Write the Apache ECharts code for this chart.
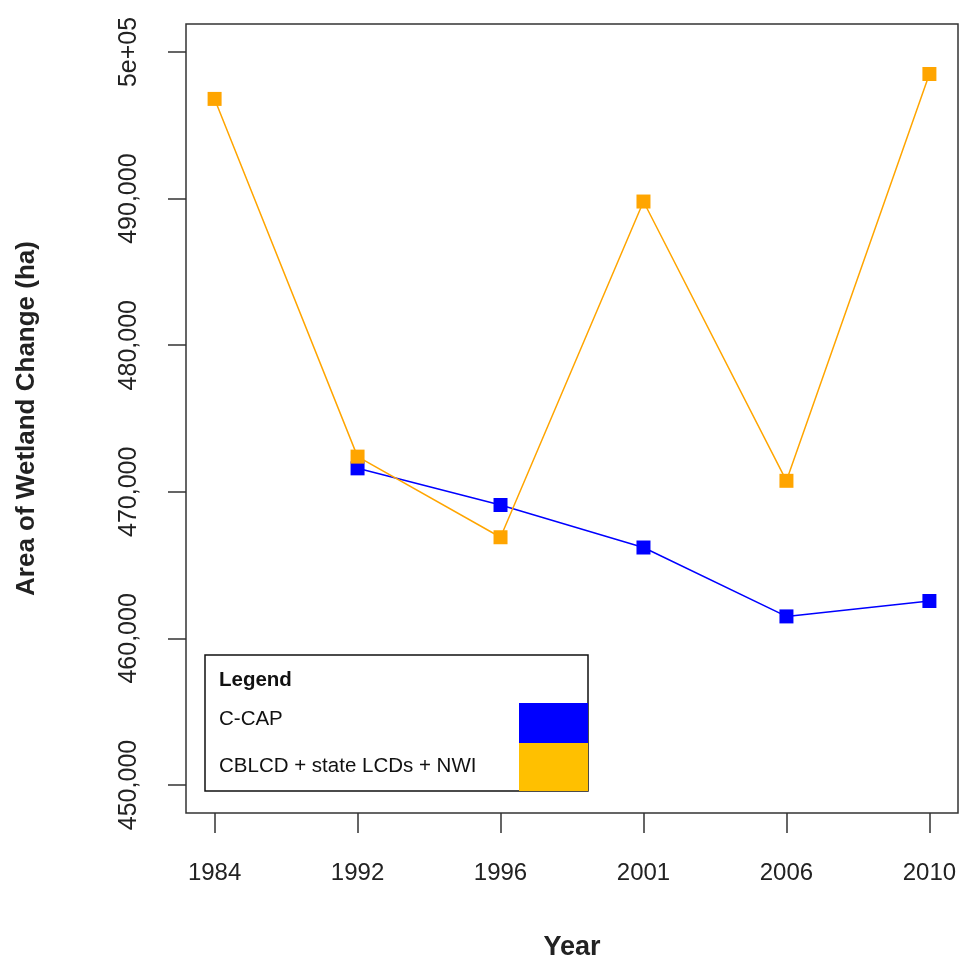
<!DOCTYPE html>
<html>
<head>
<meta charset="utf-8">
<script src="https://cdn.jsdelivr.net/npm/echarts@6/dist/echarts.min.js"></script>
<style>html,body{margin:0;padding:0;background:#fff}#c{width:966px;height:968px}</style>
</head>
<body>
<div id="c"></div>
<script>
var years = ['1984', '1992', '1996', '2001', '2006', '2010'];
var ccap = [null, 471600, 469100, 466200, 461500, 462550];
var cblcd = [496800, 472400, 466900, 489800, 470750, 498500];
var yTicks = [450000, 460000, 470000, 480000, 490000, 500000];
var yTickLabels = ['450,000', '460,000', '470,000', '480,000', '490,000', '5e+05'];
var seriesNames = ['C-CAP', 'CBLCD + state LCDs + NWI'];

function toPairs(arr) {
  var out = [];
  arr.forEach(function (v, i) { if (v !== null) out.push([i + 1, v]); });
  return out;
}
var xPos = years.map(function (_, i) { return i + 1; });

var chart = echarts.init(document.getElementById('c'), null, {renderer: 'canvas'});
var font = '"Liberation Sans", Arial, sans-serif';
chart.setOption({
  animation: false,
  backgroundColor: '#ffffff',
  grid: {left: 186, right: 8, top: 24, bottom: 155, show: true, borderColor: '#333', borderWidth: 1.5, backgroundColor: 'transparent'},
  xAxis: {
    type: 'value', min: 0.8, max: 6.2,
    name: 'Year', nameLocation: 'middle', nameGap: 121,
    nameTextStyle: {fontFamily: font, fontWeight: 'bold', fontSize: 27, color: '#222'},
    axisLine: {show: false},
    splitLine: {show: false},
    axisTick: {show: true, length: 20, lineStyle: {color: '#333', width: 1.5}, customValues: xPos},
    axisLabel: {customValues: xPos, margin: 48, fontFamily: font, fontSize: 24, color: '#222',
      formatter: function (v) { return years[Math.round(v) - 1]; }}
  },
  yAxis: {
    type: 'value', min: 448090, max: 501910,
    name: 'Area of Wetland Change (ha)', nameLocation: 'middle', nameGap: 146, nameRotate: 90,
    nameTextStyle: {fontFamily: font, fontWeight: 'bold', fontSize: 26, color: '#222'},
    axisLine: {show: false},
    splitLine: {show: false},
    axisTick: {show: true, length: 18, lineStyle: {color: '#333', width: 1.5}, customValues: yTicks},
    axisLabel: {customValues: yTicks, rotate: 90, margin: 44, fontFamily: font, fontSize: 25, color: '#222',
      formatter: function (v) { return yTickLabels[yTicks.indexOf(v)]; }}
  },
  series: [
    {name: seriesNames[0], type: 'line', data: toPairs(ccap), symbol: 'rect', symbolSize: 14,
      itemStyle: {color: '#0000ff'}, lineStyle: {color: '#0000ff', width: 1.5}},
    {name: seriesNames[1], type: 'line', data: toPairs(cblcd), symbol: 'rect', symbolSize: 14,
      itemStyle: {color: '#ffa500'}, lineStyle: {color: '#ffa500', width: 1.5}}
  ],
  graphic: [
    {type: 'rect', shape: {x: 205, y: 655, width: 383, height: 136}, style: {fill: '#fff', stroke: '#111', lineWidth: 1.5}, z: 10},
    {type: 'rect', shape: {x: 519, y: 703, width: 69, height: 40}, style: {fill: '#0000ff'}, z: 11},
    {type: 'rect', shape: {x: 519, y: 743, width: 69, height: 48}, style: {fill: '#ffc000'}, z: 11},
    {type: 'text', x: 219, y: 680, style: {text: 'Legend', font: 'bold 20.5px ' + font, fill: '#111', verticalAlign: 'middle'}, z: 12},
    {type: 'text', x: 219, y: 719, style: {text: seriesNames[0], font: '20.5px ' + font, fill: '#111', verticalAlign: 'middle'}, z: 12},
    {type: 'text', x: 219, y: 766, style: {text: seriesNames[1], font: '20.5px ' + font, fill: '#111', verticalAlign: 'middle'}, z: 12}
  ]
});
</script>
</body>
</html>
